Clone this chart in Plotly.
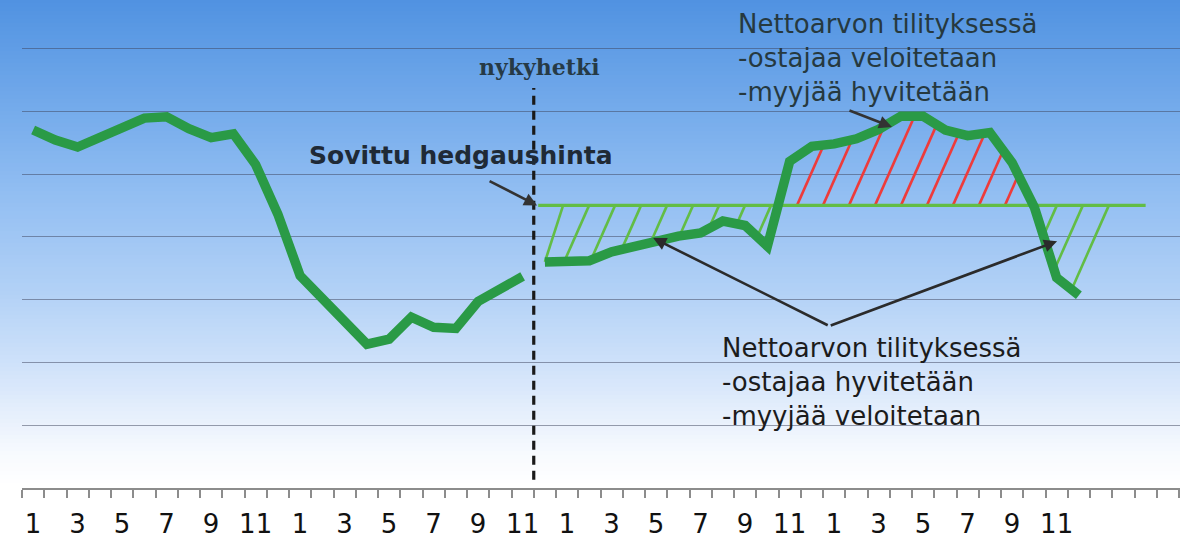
import numpy as np
import plotly.graph_objects as go

# ---------------- data ----------------
month_labels = ["1", "3", "5", "7", "9", "11"] * 4
history = [57.0, 55.4, 54.3, 55.8, 57.3, 58.9, 59.1, 57.2, 55.8, 56.4, 51.5, 43.6,
           33.8, 30.3, 26.7, 22.9, 23.7, 27.2, 25.6, 25.4, 29.7, 31.6, 33.7]
forecast = [36.0, 36.1, 36.2, 37.6, 38.5, 39.3, 40.1, 40.6, 42.5, 41.8, 38.5, 52.0,
            54.4, 54.8, 55.6, 57.1, 59.2, 59.2, 57.0, 56.1, 56.6, 51.8, 44.7, 33.5, 30.7]
hedge_price = 45.0
hedge_end = 50.0
grid_values = [10, 20, 30, 40, 50, 60, 70]

# ---------------- derived ----------------
x_hist = np.arange(len(history))
x_fc = len(history) + np.arange(len(forecast))
now_x = len(history) - 0.5
fc = np.array(forecast)

PX_PER_IDX = 22.25
PX_PER_VAL = 6.28
PLOT_W, PLOT_H = 1158, 488
x_range = [-0.5, -0.5 + PLOT_W / PX_PER_IDX]
y_range = [0, PLOT_H / PX_PER_VAL]

MAIN_GREEN = "#2a9a46"
LIGHT_GREEN = "#62bd45"
RED = "#ee3b3b"

# hatch lines between hedge line and forecast
slant = 0.125
step = 1.168
anchors = np.arange(now_x + 1.32, hedge_end, step)
t = np.linspace(0, 45, 9001)
gx, gy, rx, ry = [], [], [], []
for a in anchors:
    p0 = np.interp(a, x_fc, fc)
    below = p0 < hedge_price
    if below:
        xs = a - slant * t
        ys = hedge_price - t
        f = ys - np.interp(xs, x_fc, fc)
        far = np.where(xs < x_fc[0])[0]
    else:
        xs = a + slant * t
        ys = hedge_price + t
        f = np.interp(xs, x_fc, fc) - ys
        far = np.where(xs > x_fc[-1])[0]
    inside = (xs >= x_fc[0]) & (xs <= x_fc[-1])
    exit_i = far[0] if len(far) else len(t)
    cross = np.where((f[:-1] > 0) & (f[1:] <= 0) & inside[:-1] & inside[1:])[0]
    cross = cross[cross + 1 < exit_i]
    if len(cross):
        i = cross[0] + 1
        seg = ([a, xs[i], None], [hedge_price, ys[i], None])
    elif exit_i < len(t) and below and inside[0]:
        seg = ([a, x_fc[0], None], [hedge_price, fc[0], None])
    else:
        continue
    if below:
        gx += seg[0]; gy += seg[1]
    else:
        rx += seg[0]; ry += seg[1]

fig = go.Figure()

fig.add_trace(go.Scatter(x=gx, y=gy, mode="lines", line=dict(color=LIGHT_GREEN, width=2.6),
                         hoverinfo="skip"))
fig.add_trace(go.Scatter(x=rx, y=ry, mode="lines", line=dict(color=RED, width=2.6),
                         hoverinfo="skip"))
fig.add_trace(go.Scatter(x=[now_x + 0.2, hedge_end], y=[hedge_price, hedge_price], mode="lines",
                         line=dict(color=LIGHT_GREEN, width=3.2), hoverinfo="skip"))
fig.add_trace(go.Scatter(x=x_hist, y=history, mode="lines",
                         line=dict(color=MAIN_GREEN, width=9.5)))
fig.add_trace(go.Scatter(x=x_fc, y=forecast, mode="lines",
                         line=dict(color=MAIN_GREEN, width=9.5)))

# ---------------- background gradient ----------------
stops_t = [0.0, 0.2, 0.4, 0.6, 0.75, 0.85, 0.93, 1.0]
stops_c = [(80, 146, 225), (112, 168, 234), (146, 190, 242), (178, 209, 246),
           (207, 226, 250), (230, 239, 252), (247, 250, 254), (255, 255, 255)]
shapes = []
n = 122
for k in range(n):
    tt = (k + 0.5) / n
    c = [int(round(np.interp(tt, stops_t, [s[j] for s in stops_c]))) for j in range(3)]
    shapes.append(dict(type="rect", xref="paper", yref="paper", x0=-0.05, x1=1.01,
                       y0=1 - (k + 1) / n - 0.002, y1=1 - k / n + 0.002,
                       fillcolor=f"rgb({c[0]},{c[1]},{c[2]})", line=dict(width=0), layer="below"))
# "now" dashed line
shapes.append(dict(type="line", xref="x", yref="y", x0=now_x, x1=now_x, y0=1.3, y1=63.7,
                   line=dict(color="#1a1a1a", width=3.2, dash="9px,6px"), layer="above"))

TEXT_FONT = "DejaVu Sans"
ann = []
ann.append(dict(x=22.74, y=67.0, xref="x", yref="y", text="<b>nykyhetki</b>", showarrow=False,
                font=dict(family="DejaVu Serif", size=22, color="#263a46")))
ann.append(dict(x=19.24, y=53.0, xref="x", yref="y", text="<b>Sovittu hedgaushinta</b>", showarrow=False,
                font=dict(family=TEXT_FONT, size=25, color="#1f2a36")))
ann.append(dict(x=now_x + 0.15, y=hedge_price, xref="x", yref="y", text="", showarrow=True,
                ax=-49, ay=-25, arrowhead=2, arrowsize=1, arrowwidth=2.6, arrowcolor="#333", standoff=0))
upper = ["Nettoarvon tilityksessä", "-ostajaa veloitetaan", "-myyjää hyvitetään"]
ann.append(dict(x=31.6, y=68.4, xref="x", yref="y", text="<br>".join(upper), showarrow=False,
                xanchor="left", yanchor="middle", align="left",
                font=dict(family=TEXT_FONT, size=26, color="#26393f")))
ann.append(dict(x=38.6, y=57.5, xref="x", yref="y", text="", showarrow=True,
                ax=-44, ay=-17, arrowhead=2, arrowsize=1, arrowwidth=2.6, arrowcolor="#333", standoff=0))
lower = ["Nettoarvon tilityksessä", "-ostajaa hyvitetään", "-myyjää veloitetaan"]
ann.append(dict(x=30.85, y=16.9, xref="x", yref="y", text="<br>".join(lower), showarrow=False,
                xanchor="left", yanchor="middle", align="left",
                font=dict(family=TEXT_FONT, size=26, color="#1c1c1c")))
for tx, ty in [(27.87, 39.8), (46.02, 39.3)]:
    ann.append(dict(x=tx, y=ty, xref="x", yref="y", ax=35.78, ay=25.8, axref="x", ayref="y",
                    text="", showarrow=True, arrowhead=2, arrowsize=1, arrowwidth=2.6,
                    arrowcolor="#2b2b2b", standoff=0))

fig.update_layout(width=1180, height=549, margin=dict(l=22, r=0, t=0, b=61, autoexpand=False),
                  paper_bgcolor="white", plot_bgcolor="rgba(0,0,0,0)", showlegend=False,
                  shapes=shapes, annotations=ann)
fig.update_xaxes(range=x_range, tickmode="array", tickvals=list(range(0, 48, 2)), ticktext=month_labels,
                 ticks="", showgrid=False, zeroline=False, showline=True, linecolor="#8c8c8c",
                 linewidth=1.5, tickfont=dict(family=TEXT_FONT, size=26, color="#111111"),
                 ticklabelstandoff=12,
                 minor=dict(tickmode="array", tickvals=list(np.arange(-0.5, 52, 1.0)), ticks="outside",
                            ticklen=8, tickcolor="#8c8c8c", tickwidth=1.5, showgrid=False))
fig.update_yaxes(range=y_range, tickmode="array", tickvals=grid_values, showticklabels=False, ticks="",
                 showgrid=True, gridcolor="rgba(60,65,90,0.5)", gridwidth=1.1, zeroline=False,
                 showline=False)

fig.write_html("out.html", config={"displayModeBar": False},
               post_script="document.body.style.margin='0';")
